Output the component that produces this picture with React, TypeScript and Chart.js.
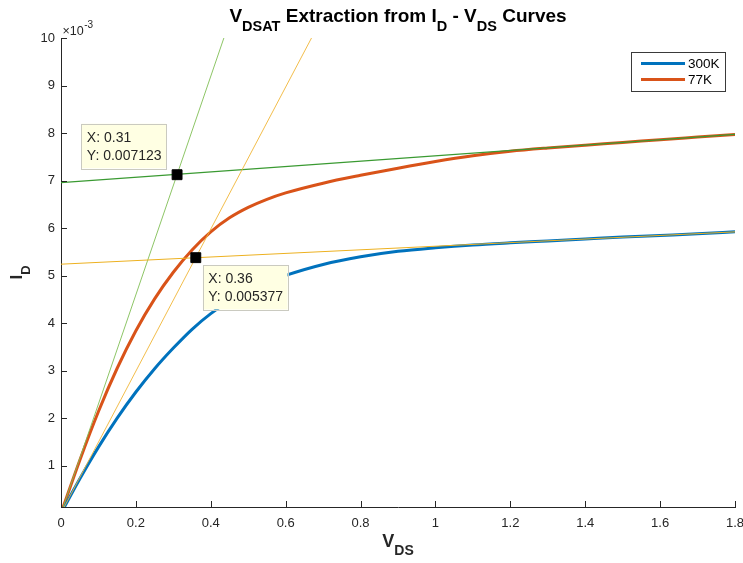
import React, { useEffect, useRef } from "react";
import { Chart, registerables } from "chart.js";

Chart.register(...registerables);

// ---- data (currents in units of 1e-3 A) ----
const vds = [0, 0.05, 0.1, 0.15, 0.2, 0.25, 0.3, 0.35, 0.4, 0.45, 0.5, 0.55, 0.6, 0.7, 0.8, 0.9, 1.0, 1.1, 1.2, 1.3, 1.4, 1.5, 1.6, 1.7, 1.8];
const id300 = [0, 0.72, 1.39, 2.0, 2.55, 3.04, 3.475, 3.87, 4.2, 4.465, 4.68, 4.86, 5.005, 5.235, 5.395, 5.51, 5.585, 5.645, 5.69, 5.73, 5.77, 5.81, 5.845, 5.88, 5.92];
const id77 = [0, 1.11, 2.14, 3.05, 3.84, 4.51, 5.07, 5.54, 5.92, 6.215, 6.435, 6.605, 6.74, 6.945, 7.11, 7.26, 7.4, 7.52, 7.615, 7.685, 7.745, 7.8, 7.86, 7.915, 7.97];
const seriesLabels = ["300K", "77K"];

// tangent lines
const sat300X = [0, 1.8];
const sat300Y = [5.24, 5.92];
const lin300X = [0, 0.669];
const lin300Y = [0, 10];
const sat77X = [0, 1.8];
const sat77Y = [6.955, 7.97];
const lin77X = [0, 0.435];
const lin77Y = [0, 10];

// data tips (intersection points)
const tipX = [0.31, 0.36];
const tipY = [7.123, 5.377];
const tipText = [
  ["X: 0.31", "Y: 0.007123"],
  ["X: 0.36", "Y: 0.005377"],
];

// axes
const xTicks = [0, 0.2, 0.4, 0.6, 0.8, 1, 1.2, 1.4, 1.6, 1.8];
const xTickLabels = ["0", "0.2", "0.4", "0.6", "0.8", "1", "1.2", "1.4", "1.6", "1.8"];
const yTicks = [1, 2, 3, 4, 5, 6, 7, 8, 9, 10];
const yTickLabels = ["1", "2", "3", "4", "5", "6", "7", "8", "9", "10"];
const xMin = 0;
const xMax = 1.8;
const yMin = 0.13;
const yMax = 10;

const titleSegs = [
  { t: "V" }, { t: "DSAT", sub: true }, { t: " Extraction from I" }, { t: "D", sub: true },
  { t: " - V" }, { t: "DS", sub: true }, { t: " Curves" },
];
const xLabelSegs = [{ t: "V" }, { t: "DS", sub: true }];
const yLabelSegs = [{ t: "I" }, { t: "D", sub: true }];
const multiplierBase = "\u00d710";
const multiplierExp = "-3";

const FAM = '"Liberation Sans", Arial, Helvetica, sans-serif';
const BLUE = "#0072BD";
const RED = "#D95319";
const AXIS = "#262626";

function pts(xs: number[], ys: number[]) {
  return xs.map((x, i) => ({ x, y: ys[i] }));
}

type Seg = { t: string; sub?: boolean };

function drawRich(
  ctx: CanvasRenderingContext2D, segs: Seg[], cx: number, baseline: number,
  mainSize: number, subSize: number, subDy: number, color: string
) {
  let total = 0;
  const widths = segs.map((s) => {
    ctx.font = `bold ${s.sub ? subSize : mainSize}px ${FAM}`;
    const w = ctx.measureText(s.t).width;
    total += w;
    return w;
  });
  let x = cx - total / 2;
  ctx.textAlign = "left";
  ctx.textBaseline = "alphabetic";
  ctx.fillStyle = color;
  segs.forEach((s, i) => {
    ctx.font = `bold ${s.sub ? subSize : mainSize}px ${FAM}`;
    ctx.fillText(s.t, x, baseline + (s.sub ? subDy : 0));
    x += widths[i];
  });
}

const overlayPlugin = {
  id: "matlabOverlay",
  afterDraw(chart: any) {
    const ctx: CanvasRenderingContext2D = chart.ctx;
    const xs = chart.scales.x;
    const ys = chart.scales.y;
    const area = chart.chartArea;
    ctx.save();

    // inward ticks
    ctx.strokeStyle = AXIS;
    ctx.lineWidth = 1;
    ctx.beginPath();
    xTicks.forEach((v) => {
      const px = Math.round(xs.getPixelForValue(v)) + 0.5;
      ctx.moveTo(px, area.bottom);
      ctx.lineTo(px, area.bottom - 6);
    });
    yTicks.forEach((v) => {
      const py = Math.round(ys.getPixelForValue(v)) + 0.5;
      ctx.moveTo(area.left, py);
      ctx.lineTo(area.left + 6, py);
    });
    ctx.stroke();

    // title
    drawRich(ctx, titleSegs, (area.left + area.right) / 2, 21.5, 19, 14.5, 9, "#000");
    // x label
    drawRich(ctx, xLabelSegs, (area.left + area.right) / 2, 547, 18, 14, 8, AXIS);
    // y label (rotated)
    ctx.save();
    ctx.translate(21.7, (area.top + area.bottom) / 2);
    ctx.rotate(-Math.PI / 2);
    drawRich(ctx, yLabelSegs, 0, 0, 17, 13, 8, AXIS);
    ctx.restore();

    // exponent multiplier
    ctx.fillStyle = AXIS;
    ctx.textAlign = "left";
    ctx.textBaseline = "alphabetic";
    ctx.font = `12.5px ${FAM}`;
    ctx.fillText(multiplierBase, area.left + 1.5, area.top - 3);
    const bw = ctx.measureText(multiplierBase).width;
    ctx.font = `10px ${FAM}`;
    ctx.fillText(multiplierExp, area.left + 1.5 + bw + 0.5, area.top - 10);

    // legend
    const lgRight = area.right - 10;
    const lgLeft = lgRight - 94;
    const lgTop = area.top + 13.7;
    const lgH = 39.3;
    ctx.fillStyle = "#fff";
    ctx.fillRect(lgLeft, lgTop, lgRight - lgLeft, lgH);
    ctx.strokeStyle = "#3a3a3a";
    ctx.lineWidth = 1;
    ctx.strokeRect(Math.round(lgLeft) + 0.5, Math.round(lgTop) + 0.5, Math.round(lgRight - lgLeft), Math.round(lgH));
    const lgColors = [BLUE, RED];
    seriesLabels.forEach((lab, i) => {
      const y = lgTop + 11.8 + i * 16;
      ctx.strokeStyle = lgColors[i];
      ctx.lineWidth = 3;
      ctx.beginPath();
      ctx.moveTo(lgLeft + 10, y);
      ctx.lineTo(lgLeft + 54, y);
      ctx.stroke();
      ctx.fillStyle = "#000";
      ctx.font = `13.5px ${FAM}`;
      ctx.textBaseline = "middle";
      ctx.fillText(lab, lgLeft + 57, y + 0.5);
    });

    // data tips
    const place = [
      { dx: -11, dy: -6.5, anchor: "br" },
      { dx: 7, dy: 7.3, anchor: "tl" },
    ];
    tipX.forEach((tx, i) => {
      const px = xs.getPixelForValue(tx);
      const py = ys.getPixelForValue(tipY[i]);
      ctx.font = `14px ${FAM}`;
      const tw = Math.max(...tipText[i].map((s) => ctx.measureText(s).width));
      const w = tw + 10;
      const h = 44.5;
      const p = place[i];
      let left: number, top: number;
      if (p.anchor === "br") {
        left = px + p.dx - w;
        top = py + p.dy - h;
      } else {
        left = px + p.dx;
        top = py + p.dy;
      }
      ctx.fillStyle = "#FFFFE3";
      ctx.fillRect(left, top, w, h);
      ctx.strokeStyle = "#CACAC0";
      ctx.lineWidth = 1;
      ctx.strokeRect(Math.round(left) + 0.5, Math.round(top) + 0.5, Math.round(w), Math.round(h));
      ctx.fillStyle = "#262626";
      ctx.textBaseline = "alphabetic";
      ctx.textAlign = "left";
      ctx.fillText(tipText[i][0], left + 5.5, top + 18.5);
      ctx.fillText(tipText[i][1], left + 5.5, top + 36.2);
    });

    ctx.restore();
  },
};

export default function App() {
  const ref = useRef<HTMLCanvasElement>(null);
  useEffect(() => {
    const canvas = ref.current;
    if (!canvas) return;
    const chart = new Chart(canvas, {
      type: "scatter",
      data: {
        datasets: [
          {
            label: seriesLabels[0], data: pts(vds, id300), showLine: true, borderColor: BLUE,
            borderWidth: 3, pointRadius: 0, cubicInterpolationMode: "monotone", order: 3,
          },
          {
            label: seriesLabels[1], data: pts(vds, id77), showLine: true, borderColor: RED,
            borderWidth: 3, pointRadius: 0, cubicInterpolationMode: "monotone", order: 3,
          },
          { label: "sat300", data: pts(sat300X, sat300Y), showLine: true, borderColor: "#EDB120", borderWidth: 1, pointRadius: 0, order: 2 },
          { label: "lin300", data: pts(lin300X, lin300Y), showLine: true, borderColor: "#F0B537", borderWidth: 0.9, pointRadius: 0, order: 2 },
          { label: "sat77", data: pts(sat77X, sat77Y), showLine: true, borderColor: "#3A9A32", borderWidth: 1.2, pointRadius: 0, order: 2 },
          { label: "lin77", data: pts(lin77X, lin77Y), showLine: true, borderColor: "#80BE55", borderWidth: 0.9, pointRadius: 0, order: 2 },
          {
            label: "tips", data: pts(tipX, tipY), showLine: false, pointStyle: "rect",
            pointRadius: 7, backgroundColor: "#000", borderColor: "#000", borderWidth: 1, order: 1,
          },
        ],
      },
      options: {
        animation: false,
        responsive: false,
        devicePixelRatio: 1,
        layout: { padding: { left: 0, top: 38, right: 7, bottom: 0 } },
        plugins: { legend: { display: false }, title: { display: false }, tooltip: { enabled: false } },
        scales: {
          x: {
            type: "linear", min: xMin, max: xMax,
            grid: { display: false, drawTicks: false },
            border: { display: true, color: AXIS, width: 1 },
            afterBuildTicks: (s: any) => { s.ticks = xTicks.map((v) => ({ value: v })); },
            afterFit: (s: any) => { s.height = 56; s.paddingLeft = 0; s.paddingRight = 0; },
            ticks: {
              autoSkip: false, maxRotation: 0, padding: 9, color: AXIS,
              font: { family: FAM, size: 13 },
              callback: (_v: any, i: number) => xTickLabels[i],
            },
          },
          y: {
            type: "linear", min: yMin, max: yMax,
            grid: { display: false, drawTicks: false },
            border: { display: true, color: AXIS, width: 1 },
            afterBuildTicks: (s: any) => { s.ticks = yTicks.map((v) => ({ value: v })); },
            afterFit: (s: any) => { s.width = 61; s.paddingTop = 0; s.paddingBottom = 0; },
            ticks: {
              autoSkip: false, padding: 6, color: AXIS,
              font: { family: FAM, size: 13 },
              callback: (_v: any, i: number) => yTickLabels[i],
            },
          },
        },
      },
      plugins: [overlayPlugin],
    } as any);
    return () => chart.destroy();
  }, []);
  return (
    <div style={{ position: "absolute", left: 0, top: 0, width: 743, height: 563, background: "#fff" }}>
      <canvas ref={ref} width={743} height={563} style={{ width: 743, height: 563 }} />
    </div>
  );
}
